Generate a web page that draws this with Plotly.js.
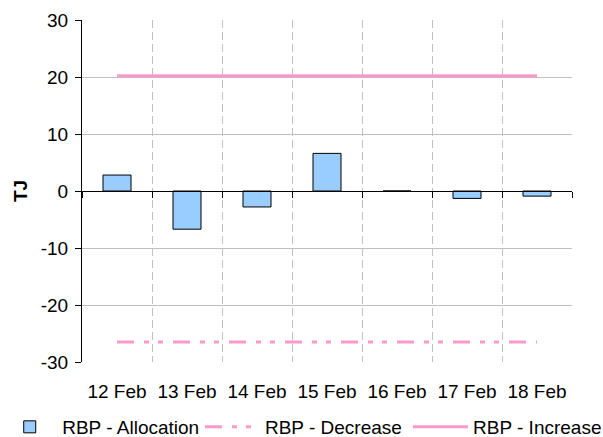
<!DOCTYPE html>
<html>
<head>
<meta charset="utf-8">
<script src="https://cdn.plot.ly/plotly-3.0.1.min.js"></script>
<style>html,body{margin:0;padding:0;background:#fff;}#chart{width:603px;height:437px;}</style>
</head>
<body>
<div id="chart"></div>
<script>
var categories = ["12 Feb", "13 Feb", "14 Feb", "15 Feb", "16 Feb", "17 Feb", "18 Feb"];
var allocation = [2.8, -6.7, -2.8, 6.6, 0, -1.3, -0.9];
var decrease = [-26.5, -26.5, -26.5, -26.5, -26.5, -26.5, -26.5];
var increase = [20.2, 20.2, 20.2, 20.2, 20.2, 20.2, 20.2];
var yTicks = [-30, -20, -10, 0, 10, 20, 30];

var FONT = "Arial, 'Liberation Sans', sans-serif";
var FS = 19;
var pink = "#FF99CC";
var legFont = {family: FONT, size: FS, color: "#000"};

var traces = [
  {
    type: "bar", name: "RBP - Allocation", x: categories, y: allocation,
    xaxis: "x2", yaxis: "y", width: 0.4, legend: "legend",
    marker: {color: "#99CCFF", line: {color: "#000000", width: 1}}
  },
  {
    type: "scatter", mode: "lines", name: "RBP - Decrease", x: categories, y: decrease,
    legend: "legend2",
    line: {color: pink, width: 3, dash: "17px,10px,5px,9px,5px,10px"}
  },
  {
    type: "scatter", mode: "lines", name: "RBP - Increase", x: categories, y: increase,
    legend: "legend3",
    line: {color: pink, width: 3}
  }
];

function leg(x) {
  return {orientation: "h", x: x, xanchor: "left", y: -0.19, yanchor: "middle",
          font: legFont, itemwidth: 55, bgcolor: "rgba(0,0,0,0)", borderwidth: 0};
}

var layout = {
  width: 603, height: 437,
  margin: {l: 82, r: 31, t: 20, b: 75, autoexpand: false},
  paper_bgcolor: "#fff", plot_bgcolor: "#fff",
  font: {family: FONT, size: FS, color: "#000"},
  showlegend: true,
  legend: leg(-0.173),
  legend2: leg(0.2407),
  legend3: leg(0.6653),
  xaxis: {
    type: "category", categoryorder: "array", categoryarray: categories,
    range: [-0.5, 6.5], tickson: "boundaries", ticks: "",
    showgrid: true, gridcolor: "#C0C0C0", gridwidth: 1, griddash: "8px,4px",
    showline: false, zeroline: false, tickfont: {family: FONT, size: FS, color: "#000"},
    ticklabelstandoff: 16, fixedrange: true
  },
  xaxis2: {
    type: "category", categoryorder: "array", categoryarray: categories,
    range: [-0.5, 6.5], overlaying: "x", anchor: "free", position: 0.5,
    tickson: "boundaries", ticks: "outside", ticklen: 6, tickcolor: "#000", tickwidth: 1,
    showticklabels: false, showgrid: false, showline: true, linecolor: "#000", linewidth: 1,
    zeroline: false, fixedrange: true
  },
  yaxis: {
    range: [-30, 30], tickvals: yTicks, ticktext: yTicks.map(String),
    showgrid: true, gridcolor: "#C0C0C0", gridwidth: 1,
    showline: true, linecolor: "#000", linewidth: 1,
    ticks: "outside", ticklen: 6, tickcolor: "#000",
    zeroline: false, tickfont: {family: FONT, size: FS, color: "#000"},
    ticklabelstandoff: 3,
    title: {text: "<b>TJ</b>", font: {family: FONT, size: FS, color: "#000"}, standoff: 8},
    fixedrange: true
  }
};

Plotly.newPlot("chart", traces, layout, {displayModeBar: false, staticPlot: true});
</script>
</body>
</html>
